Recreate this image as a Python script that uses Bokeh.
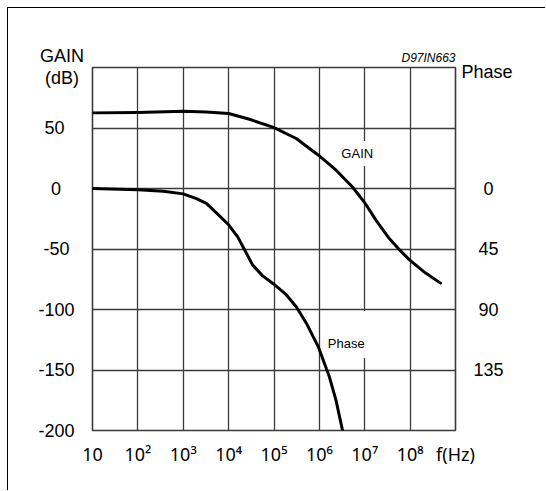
from bokeh.plotting import figure
from bokeh.models import (Range1d, LinearAxis, FixedTicker, Label)
from bokeh.layouts import column
from bokeh.embed import file_html
from bokeh.resources import INLINE

# ---- data ----
gain_freq = [10, 100, 1000, 3240, 1.0e4, 2.88e4, 9.77e4, 3.09e5, 9.55e5,
             2.34e6, 5.37e6, 9.77e6, 1.78e7, 3.47e7, 6.31e7, 9.55e7,
             2.19e8, 4.68e8]
gain_db = [62.5, 62.8, 63.9, 63.3, 62.0, 57.2, 50.5, 41.3, 27.5,
           15.1, 1.2, -11.2, -26.3, -41.4, -52.0, -58.8,
           -69.9, -78.2]

phase_freq = [10, 100, 363, 1000, 1950, 3240, 5750, 1.0e4, 1.585e4, 2.45e4,
              3.39e4, 5.62e4, 9.77e4, 1.86e5, 3.09e5, 5.13e5, 9.55e5,
              1.66e6, 2.34e6, 3.24e6]
phase_deg = [0, 1, 2, 4, 7.5, 11, 19, 27, 36, 48,
             57, 65, 71, 79, 88, 100, 118,
             140, 158, 180]

freq_ticks = [10, 100, 1000, 10000, 100000, 1000000, 10000000, 100000000, 1000000000]
freq_labels = ["10", "10²", "10³", "10⁴", "10⁵", "10⁶", "10⁷", "10⁸", "f(Hz)"]
gain_ticks = [-200, -150, -100, -50, 0, 50]
# figure/punctuation/thin spaces keep the labels visually centred like the original
gain_labels = ["-200", "-150", "-100", "-50\u2008", "0\u2007\u2009", "50\u2007"]
gain_grid = [-150, -100, -50, 0, 50]
phase_ticks = [0, 45, 90, 135]
phase_labels = ["\u20070", "\u200845", "\u200890", "135"]

FONT = "Liberation Sans"
INK = "#000000"
GRID = "#3a3a3a"

p = figure(x_axis_type="log", x_range=Range1d(10, 1e9), y_range=Range1d(-200, 100),
           frame_width=363, frame_height=363,
           min_border_left=84, min_border_top=59, min_border_right=90, min_border_bottom=60,
           output_backend="svg", toolbar_location=None,
           background_fill_color="white", border_fill_color="white")

p.extra_y_ranges = {"phase": Range1d(start=180, end=-90)}

# grid
p.xgrid.ticker = FixedTicker(ticks=freq_ticks)
p.ygrid.ticker = FixedTicker(ticks=gain_grid)
for g in (p.xgrid, p.ygrid):
    g.grid_line_color = GRID
    g.grid_line_width = 1.3
p.outline_line_color = GRID
p.outline_line_width = 1.6

def style_axis(ax, standoff, font=FONT):
    ax.axis_line_color = None
    ax.major_tick_line_color = None
    ax.minor_tick_line_color = None
    ax.major_label_standoff = standoff
    ax.major_label_text_font = font
    ax.major_label_text_font_size = "18px"
    ax.major_label_text_color = INK

# bottom axis
xa = p.xaxis[0]
xa.ticker = FixedTicker(ticks=freq_ticks)
xa.major_label_overrides = {t: l for t, l in zip(freq_ticks, freq_labels)}
style_axis(xa, 5, "Noto Sans")

# left axis
ya = p.yaxis[0]
ya.ticker = FixedTicker(ticks=gain_ticks)
ya.major_label_overrides = {t: l for t, l in zip(gain_ticks, gain_labels)}
style_axis(ya, 12)

# right axis (phase)
ra = LinearAxis(y_range_name="phase", ticker=FixedTicker(ticks=phase_ticks))
ra.major_label_overrides = {t: l for t, l in zip(phase_ticks, phase_labels)}
style_axis(ra, 12)
p.add_layout(ra, "right")

# curves
p.line(gain_freq, gain_db, line_color=INK, line_width=3, line_join="round", line_cap="round")
p.line(phase_freq, phase_deg, y_range_name="phase", line_color=INK, line_width=3,
       line_join="round", line_cap="round")

# text annotations
def lab(place="center", **kw):
    base = dict(text_font=FONT, text_color=INK)
    base.update(kw)
    lbl = Label(**base)
    if place == "center":
        p.add_layout(lbl)
    else:
        p.add_layout(lbl, place)

# titles outside the frame live in side panels so they are not clipped
lab("above", x=10, y=100, text="GAIN\n(dB)", text_align="center", text_baseline="middle",
    x_offset=-30.5, y_offset=0.5, text_font_size="18px", text_line_height=1.14)
lab("above", x=1e9, y=100, text="D97IN663", text_align="right", text_baseline="alphabetic",
    y_offset=10, text_font_size="12px", text_font_style="italic")
lab("below", x=1e9, y=100, text="Phase", text_align="left", text_baseline="alphabetic",
    x_offset=6, y_offset=-4, text_font_size="18px")
# in-plot labels with a white box that breaks the grid line
lab(x=6.84e6, y=28.9, text="GAIN", text_align="center", text_baseline="middle",
    text_font_size="13px", background_fill_color="white", padding=(2, 2, 5, 5))
lab(x=3.92e6, y=-128, text="Phase", text_align="center", text_baseline="middle",
    y_offset=9, text_font_size="13px", background_fill_color="white", padding=(2, 2, 25, 7))

layout = column(p, styles={"margin-left": "7px", "margin-top": "7px",
                           "border-top": "1px solid #000", "border-left": "1px solid #000"})

open("out.html", "w").write(file_html(layout, INLINE))
